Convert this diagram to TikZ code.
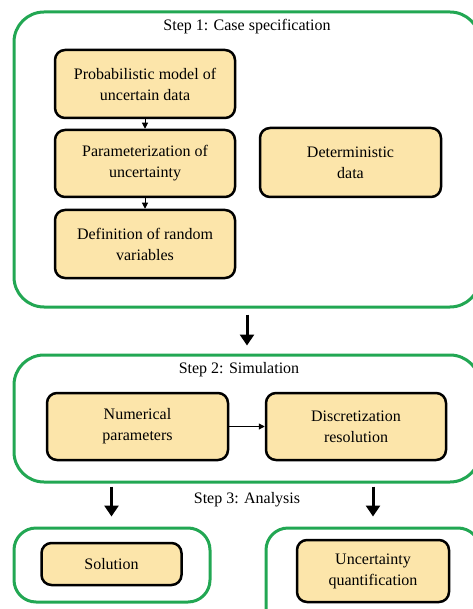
\documentclass[tikz,border=0pt]{standalone}
\usepackage{fontspec}
\setmainfont{Liberation Serif}
\usetikzlibrary{arrows.meta}

\definecolor{stepgreen}{HTML}{22A753}
\definecolor{boxfill}{HTML}{FCE5AA}

\tikzset{
  stepframe/.style={draw=stepgreen, line width=3pt, rounded corners=30pt, inner sep=0pt},
  stepbox/.style={draw=black, line width=2.5pt, fill=boxfill, rounded corners=10pt,
    align=center, inner sep=0pt, font=\fontsize{16}{21}\selectfont},
  steptitle/.style={font=\fontsize{16}{18}\selectfont},
  bigarrow/.style={line width=3pt, -{Triangle[width=14pt,length=11pt]}},
  smallarrow/.style={line width=1pt, -{Triangle[width=6pt,length=6pt]}}
}

\begin{document}
\begin{tikzpicture}[x=1pt, y=-1pt]
  \useasboundingbox (0, 0) rectangle (472, 609);

  % Step 1
  \node[stepframe, minimum width=466, minimum height=295] (frameA) at (247, 159.5) {};
  \node[steptitle] (titleA) at (247, 27) {Step 1: Case specification};
  \node[stepbox, minimum width=180, minimum height=68] (prob) at (145, 84)
    {Probabilistic model of\\uncertain data};
  \node[stepbox, minimum width=180, minimum height=67] (param) at (145, 163.5)
    {Parameterization of\\uncertainty};
  \node[stepbox, minimum width=180, minimum height=68] (defrv) at (145, 244)
    {Definition of random\\variables};
  \node[stepbox, minimum width=181, minimum height=69] (determ) at (350.5, 162.5)
    {Deterministic\\data};
  \draw[smallarrow] (prob) -- (param);
  \draw[smallarrow] (param) -- (defrv);

  % Step 1 -> Step 2
  \node[stepframe, minimum width=466, minimum height=127] (frameB) at (247, 418.5) {};
  \draw[bigarrow, shorten <=6pt, shorten >=8pt] (frameA.south) -- (frameB.north);

  % Step 2
  \node[steptitle] (titleB) at (239, 370) {Step 2: Simulation};
  \node[stepbox, minimum width=181, minimum height=67] (numpar) at (137.5, 426.5)
    {Numerical\\parameters};
  \node[stepbox, minimum width=180, minimum height=67] (discres) at (356, 426.5)
    {Discretization\\resolution};
  \draw[smallarrow] (numpar) -- (discres);

  % Step 3
  \node[steptitle] (titleC) at (247, 500) {Step 3: Analysis};
  \node[stepframe, rounded corners=22pt, minimum width=196, minimum height=74] (frameC) at (112, 565) {};
  \node[stepframe, rounded corners=22pt, minimum width=214, minimum height=102] (frameD) at (373, 579) {};
  \node[stepbox, minimum width=140, minimum height=42] (sol) at (111.5, 564) {Solution};
  \node[stepbox, minimum width=152, minimum height=62] (uq) at (373, 571)
    {Uncertainty\\quantification};
  \draw[bigarrow, shorten <=3pt, shorten >=10pt] (frameB.south -| sol) -- (frameC.north -| sol);
  \draw[bigarrow, shorten <=3pt, shorten >=10pt] (frameB.south -| uq) -- (frameD.north -| uq);

\end{tikzpicture}
\end{document}
